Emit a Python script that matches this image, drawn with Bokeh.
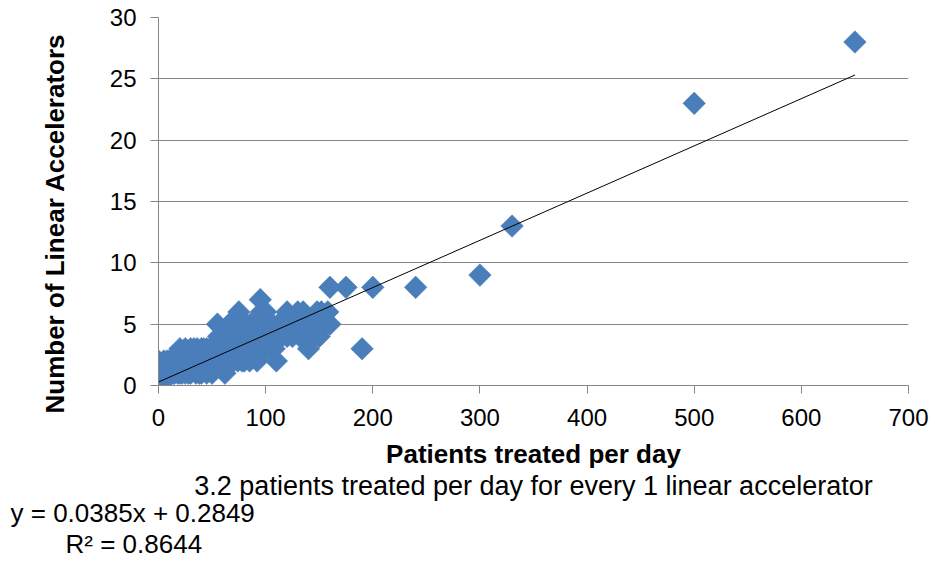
import numpy as np
from bokeh.plotting import figure
from bokeh.models import ColumnDataSource, FixedTicker, Title
from bokeh.embed import file_html
from bokeh.resources import INLINE

# Patients treated per day at each centre, and the linear accelerators it runs
patients = [0, 0, 0, 2, 3, 5, 5, 6, 8, 8, 10, 10, 12, 12, 14, 15, 15, 16, 18, 18,
            20, 20, 20, 22, 22, 24, 25, 25, 26, 28, 28, 30, 30, 30, 32, 33, 35, 35,
            36, 38, 38, 40, 40, 40, 42, 42, 44, 45, 45, 46, 48, 48, 50, 50, 50, 52,
            52, 54, 55, 55, 56, 58, 58, 60, 60, 60, 62, 62, 64, 65, 65, 66, 68, 68,
            70, 70, 70, 72, 72, 74, 75, 75, 76, 78, 78, 80, 80, 80, 82, 82, 84, 85,
            85, 86, 88, 88, 90, 90, 90, 92, 94, 95, 95, 96, 98, 100, 100, 100, 102,
            104, 105, 106, 108, 110, 110, 112, 115, 118, 120, 120, 122, 125, 128,
            130, 130, 132, 135, 138, 140, 140, 142, 145, 148, 150, 150, 152, 155,
            158, 160, 160, 175, 190, 200, 240, 300, 330, 500, 650]
linacs = [0, 1, 2, 1, 0, 1, 2, 1, 1, 2, 1, 2, 1, 2, 1, 2, 1, 2, 1, 2,
          1, 2, 3, 2, 1, 2, 1, 3, 2, 2, 1, 1, 2, 3, 2, 3, 1, 2,
          3, 2, 1, 1, 2, 3, 2, 3, 2, 1, 3, 2, 2, 3, 1, 2, 3, 2,
          3, 3, 5, 2, 4, 2, 3, 2, 3, 4, 1, 3, 2, 3, 4, 5, 3, 2,
          2, 3, 4, 5, 3, 2, 6, 4, 3, 2, 5, 3, 4, 2, 5, 3, 4, 2,
          3, 5, 4, 3, 3, 5, 4, 2, 4, 7, 3, 6, 5, 3, 4, 6, 5,
          3, 4, 5, 3, 2, 4, 5, 4, 5, 6, 4, 5, 4, 5,
          5, 6, 4, 6, 5, 3, 4, 5, 4, 6, 4, 5, 6, 5,
          6, 5, 8, 8, 3, 8, 8, 9, 13, 23, 28]

# Linear trendline fitted in the spreadsheet
slope = 0.0385
intercept = 0.2849
r_squared = 0.8644
trend_x = [0, 650]
trend_y = [intercept + slope * v for v in trend_x]

x_ticks = [0, 100, 200, 300, 400, 500, 600, 700]
y_ticks = [0, 5, 10, 15, 20, 25, 30]

FONT = "Liberation Sans"
GRID = "#868686"
BLUE = "#4A7EBB"

p = figure(width=935, height=563, x_range=(0, 700), y_range=(0, 30),
           output_backend="svg", toolbar_location=None,
           min_border_left=158, min_border_right=27,
           min_border_top=17, min_border_bottom=178)
p.title.visible = False
p.outline_line_color = None
p.background_fill_color = "white"
p.border_fill_color = "white"

p.xgrid.visible = False
p.ygrid.grid_line_color = GRID
p.ygrid.grid_line_width = 1

for ax in (p.xaxis[0], p.yaxis[0]):
    ax.axis_line_color = GRID
    ax.major_tick_line_color = GRID
    ax.major_tick_in = 0
    ax.major_tick_out = 8
    ax.minor_tick_line_color = None
    ax.major_label_text_font = FONT
    ax.major_label_text_font_size = "24px"
    ax.major_label_text_color = "black"
    ax.axis_label_text_font = FONT
    ax.axis_label_text_font_size = "26px"
    ax.axis_label_text_font_style = "bold"
    ax.axis_label_text_color = "black"

p.xaxis[0].ticker = FixedTicker(ticks=x_ticks)
p.yaxis[0].ticker = FixedTicker(ticks=y_ticks)
p.xaxis[0].major_label_standoff = 15
p.yaxis[0].major_label_standoff = 14
p.xaxis[0].axis_label = "Patients treated per day"
p.xaxis[0].axis_label_standoff = 10

# Vertical title, starting a little below the frame's bottom edge
p.add_layout(Title(text="Number of Linear Accelerators", align="left",
                   offset=-28, standoff=74, text_font=FONT,
                   text_font_size="26px", text_font_style="bold",
                   text_color="black"), "left")

src = ColumnDataSource(data=dict(x=patients, y=linacs))
p.scatter("x", "y", source=src, marker="square", size=16, angle=np.pi / 4,
          fill_color=BLUE, line_color=BLUE, line_width=0.5)

p.line(trend_x, trend_y, line_color="black", line_width=1)

# Notes under the chart: summary line, then the trendline equation and R²
p.add_layout(Title(text="3.2 patients treated per day for every 1 linear accelerator",
                   align="center", standoff=-6, text_font=FONT,
                   text_font_size="27px", text_font_style="normal",
                   text_color="black"), "below")
p.add_layout(Title(text=f"y = {slope}x + {intercept}",
                   align="left", offset=-148, standoff=-3, text_font=FONT,
                   text_font_size="26px", text_font_style="normal",
                   text_color="black"), "below")
p.add_layout(Title(text=f"R\u00b2 = {r_squared}",
                   align="left", offset=-93, standoff=1, text_font=FONT,
                   text_font_size="26px", text_font_style="normal",
                   text_color="black"), "below")

open("out.html", "w").write(file_html(p, INLINE))
